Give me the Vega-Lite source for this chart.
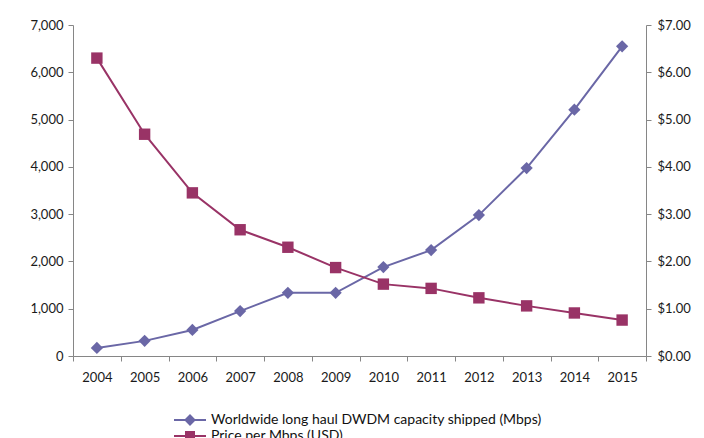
{
  "$schema": "https://vega.github.io/schema/vega-lite/v6.json",
  "width": 573,
  "height": 331,
  "autosize": {"type": "none"},
  "padding": {"left": 73, "top": 25, "right": 58, "bottom": 82},
  "background": "white",
  "config": {
    "view": {"stroke": null},
    "font": "Lato",
    "axis": {"grid": false, "domainColor": "#868686", "tickColor": "#868686", "labelColor": "#1a1a1a", "labelFontSize": 13, "title": null, "tickSize": 5, "domainWidth": 1, "labelOverlap": false}
  },
  "data": {"values": [
    {"year": "2004", "series": "Worldwide long haul DWDM capacity shipped (Mbps)", "value": 170},
    {"year": "2005", "series": "Worldwide long haul DWDM capacity shipped (Mbps)", "value": 320},
    {"year": "2006", "series": "Worldwide long haul DWDM capacity shipped (Mbps)", "value": 550},
    {"year": "2007", "series": "Worldwide long haul DWDM capacity shipped (Mbps)", "value": 950},
    {"year": "2008", "series": "Worldwide long haul DWDM capacity shipped (Mbps)", "value": 1335},
    {"year": "2009", "series": "Worldwide long haul DWDM capacity shipped (Mbps)", "value": 1335},
    {"year": "2010", "series": "Worldwide long haul DWDM capacity shipped (Mbps)", "value": 1880},
    {"year": "2011", "series": "Worldwide long haul DWDM capacity shipped (Mbps)", "value": 2240},
    {"year": "2012", "series": "Worldwide long haul DWDM capacity shipped (Mbps)", "value": 2980},
    {"year": "2013", "series": "Worldwide long haul DWDM capacity shipped (Mbps)", "value": 3975},
    {"year": "2014", "series": "Worldwide long haul DWDM capacity shipped (Mbps)", "value": 5210},
    {"year": "2015", "series": "Worldwide long haul DWDM capacity shipped (Mbps)", "value": 6550},
    {"year": "2004", "series": "Price per Mbps (USD)", "value": 6.30},
    {"year": "2005", "series": "Price per Mbps (USD)", "value": 4.69},
    {"year": "2006", "series": "Price per Mbps (USD)", "value": 3.45},
    {"year": "2007", "series": "Price per Mbps (USD)", "value": 2.67},
    {"year": "2008", "series": "Price per Mbps (USD)", "value": 2.30},
    {"year": "2009", "series": "Price per Mbps (USD)", "value": 1.87},
    {"year": "2010", "series": "Price per Mbps (USD)", "value": 1.52},
    {"year": "2011", "series": "Price per Mbps (USD)", "value": 1.43},
    {"year": "2012", "series": "Price per Mbps (USD)", "value": 1.23},
    {"year": "2013", "series": "Price per Mbps (USD)", "value": 1.06},
    {"year": "2014", "series": "Price per Mbps (USD)", "value": 0.91},
    {"year": "2015", "series": "Price per Mbps (USD)", "value": 0.76}
  ]},
  "encoding": {
    "x": {"field": "year", "type": "ordinal", "scale": {"paddingInner": 0, "paddingOuter": 0}, "axis": {"labelAngle": 0, "tickBand": "extent", "labelPadding": 10, "domainColor": "#868686"}},
    "color": {
      "field": "series", "type": "nominal",
      "scale": {"domain": ["Worldwide long haul DWDM capacity shipped (Mbps)", "Price per Mbps (USD)"], "range": ["#6A67A6", "#993366"]},
      "legend": {
        "orient": "none", "legendX": 110, "legendY": 388, "title": null, "padding": 0,
        "labelFontSize": 14, "labelColor": "#111", "labelOffset": 14, "symbolSize": 100, "rowPadding": -4, "labelLimit": 500,
        "encode": {"symbols": {"update": {
          "shape": {"signal": "datum.value === 'Price per Mbps (USD)' ? 'M-3.2,0L3.2,0M-0.8,-0.8L0.8,-0.8L0.8,0.8L-0.8,0.8Z' : 'M-3.2,0L3.2,0M-0.9,0L0,-0.9L0.9,0L0,0.9Z'"},
          "fill": {"signal": "datum.value === 'Price per Mbps (USD)' ? '#993366' : '#6A67A6'"},
          "stroke": {"signal": "datum.value === 'Price per Mbps (USD)' ? '#993366' : '#6A67A6'"},
          "strokeWidth": {"value": 2},
          "opacity": {"value": 1}
        }}}
      }
    }
  },
  "layer": [
    {
      "transform": [{"filter": "datum.series !== 'Price per Mbps (USD)'"}],
      "mark": {"type": "line", "strokeWidth": 2, "point": {"shape": "diamond", "size": 150, "filled": true, "opacity": 1}},
      "encoding": {
        "y": {"field": "value", "type": "quantitative", "scale": {"domain": [0, 7000], "nice": false}, "axis": {"format": ",d", "values": [0,1000,2000,3000,4000,5000,6000,7000], "labelPadding": 5}}
      }
    },
    {
      "transform": [{"filter": "datum.series === 'Price per Mbps (USD)'"}],
      "mark": {"type": "line", "strokeWidth": 2, "point": {"shape": "square", "size": 130, "filled": true, "opacity": 1}},
      "encoding": {
        "y": {"field": "value", "type": "quantitative", "scale": {"domain": [0, 7], "nice": false}, "axis": {"orient": "right", "format": "$.2f", "values": [0,1,2,3,4,5,6,7], "labelPadding": 6}}
      }
    }
  ],
  "resolve": {"scale": {"y": "independent"}}
}
